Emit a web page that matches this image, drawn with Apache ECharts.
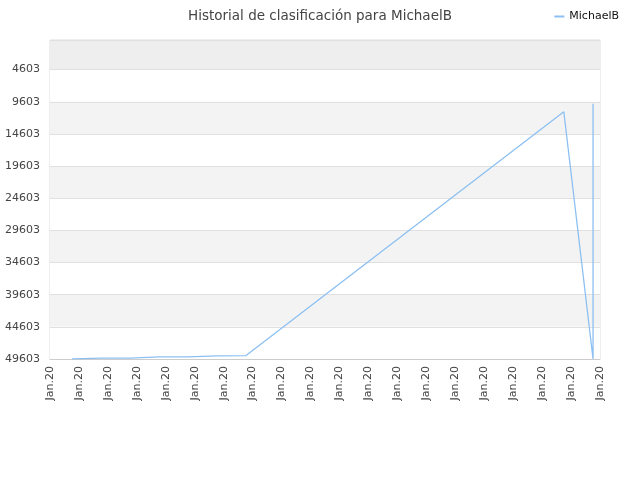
<!DOCTYPE html>
<html><head><meta charset="utf-8">
<script src="https://cdn.jsdelivr.net/npm/echarts@6/dist/echarts.min.js"></script>
<style>html,body{margin:0;padding:0;background:#fff}#c{width:640px;height:480px}</style>
</head><body><div id="c"></div>
<script>
var title = 'Historial de clasificación para MichaelB';
var seriesName = 'MichaelB';
var tickLabel = 'Jan.20';
var xTicks = 19;            // number of x intervals
var xValues = [0.76, 1.76, 2.76, 3.76, 4.76, 5.76, 6.76, 17.75, 18.76, 18.76];
var ranks =   [49580, 49480, 49470, 49270, 49260, 49110, 49090, 11150, 49603, 9900];
var yMin = 1, yMax = 49603, yStep = 5000;
var shift = yStep - ((yMax) % yStep); // 397: aligns ticks to 4603, 9603...

var data = xValues.map(function (x, i) { return [x, ranks[i] + shift]; });

var bandColors = ['#eeeeee'];
for (var i = 1; i < 12; i++) bandColors.push(i % 2 ? '#ffffff' : '#f3f3f3');

var chart = echarts.init(document.getElementById('c'));
chart.setOption({
  animation: false,
  textStyle: { fontFamily: 'DejaVu Sans' },
  title: { text: title, left: 'center', top: 4,
    textStyle: { fontSize: 13.5, fontWeight: 'normal', color: '#444', fontFamily: 'DejaVu Sans' } },
  legend: { data: [{ name: seriesName, icon: 'rect' }], right: 16, top: 6, itemWidth: 10, itemHeight: 2,
    itemGap: 6, textStyle: { fontSize: 11, color: '#111', fontFamily: 'DejaVu Sans' } },
  grid: { left: 50, right: 40, top: 40, bottom: 121, show: true, borderColor: '#dddddd', borderWidth: 1 },
  xAxis: {
    type: 'value', min: 0, max: xTicks, interval: 1,
    axisLine: { show: true, lineStyle: { color: '#cccccc' } },
    axisTick: { show: false },
    splitLine: { show: false },
    axisLabel: { rotate: 90, fontSize: 11, color: '#444', margin: 7, formatter: function () { return tickLabel; } }
  },
  yAxis: {
    type: 'value', inverse: true, min: yMin + shift, max: yMax + shift, splitNumber: 10,
    axisLine: { show: false }, axisTick: { show: false },
    axisLabel: { fontSize: 11, color: '#444', margin: 10, showMinLabel: false,
      formatter: function (v) { return String(v - shift); } },
    splitLine: { show: true, lineStyle: { color: '#e0e0e0' } },
    splitArea: { show: true, areaStyle: { color: bandColors } }
  },
  series: [{
    name: seriesName, type: 'line', data: data, showSymbol: false, symbol: 'none',
    lineStyle: { color: '#8cc0f2', width: 1.3 }, itemStyle: { color: '#8cc0f2' }
  }]
});
</script></body></html>
